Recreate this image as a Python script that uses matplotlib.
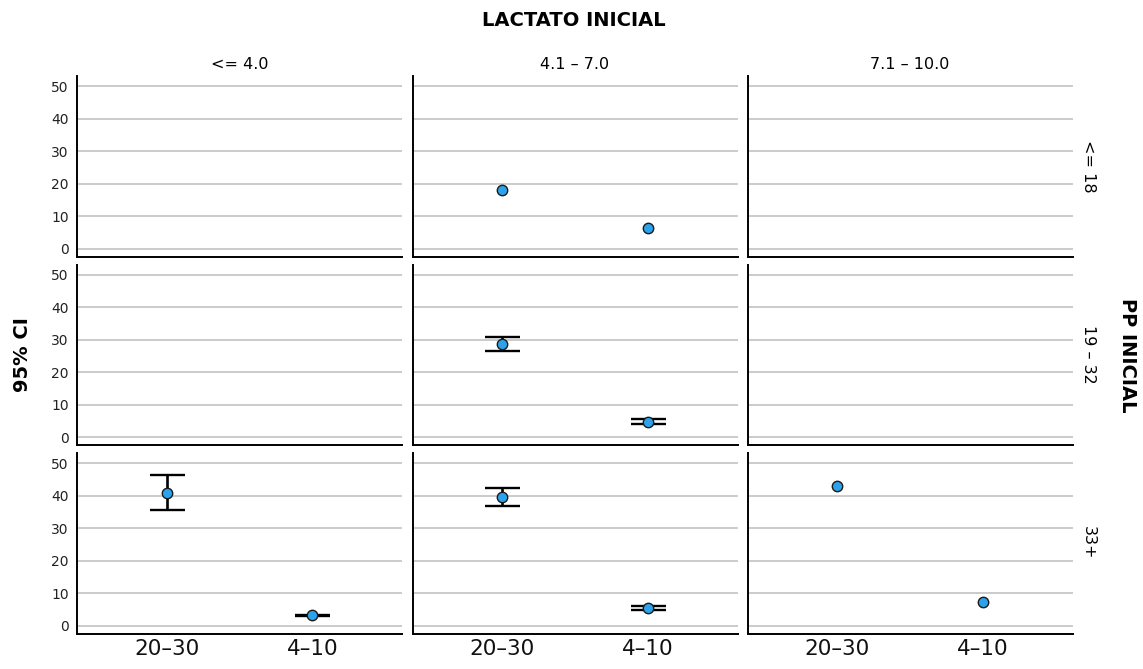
import numpy as np
import matplotlib
matplotlib.use('Agg')
import matplotlib.pyplot as plt

# x categories (same in every panel)
categories = ['20\u201330', '4\u201310']
# column / row facets
col_labels = ['<= 4.0', '4.1 \u2013 7.0', '7.1 \u2013 10.0']
row_labels = ['<= 18', '19 \u2013 32', '33+']

nan = np.nan
# means: [row][col] -> value for each category
mean_2030 = [[nan, 18.0, nan],
             [nan, 28.7, nan],
             [41.0, 39.7, 43.1]]
mean_410 = [[nan, 6.3, nan],
            [nan, 4.8, nan],
            [3.2, 5.4, 7.3]]
# 95% CI bounds (nan = no interval)
lo_2030 = [[nan, nan, nan],
           [nan, 26.6, nan],
           [35.6, 36.9, nan]]
hi_2030 = [[nan, nan, nan],
           [nan, 31.0, nan],
           [46.4, 42.5, nan]]
lo_410 = [[nan, nan, nan],
          [nan, 4.2, nan],
          [3.0, 4.7, nan]]
hi_410 = [[nan, nan, nan],
          [nan, 5.5, nan],
          [3.4, 6.2, nan]]

yticks = [0, 10, 20, 30, 40, 50]

W, H = 1143, 669
fig = plt.figure(figsize=(W / 100, H / 100), dpi=100)

col_left = [77, 412.5, 747.5]
ax_w = 325
row_top = [76, 264.5, 453]
ax_h = 180.5

point_color = '#2BA2EA'

for r in range(3):
    for c in range(3):
        ax = fig.add_axes([col_left[c] / W, 1 - (row_top[r] + ax_h) / H,
                           ax_w / W, ax_h / H])
        ax.set_xlim(-0.616, 1.616)
        ax.set_ylim(-2.4, 53.2)
        ax.set_yticks(yticks)
        ax.set_xticks([0, 1])
        ax.grid(axis='y', color='#bdbdbd', linewidth=1.1)
        ax.set_axisbelow(True)
        for s in ['top', 'right']:
            ax.spines[s].set_visible(False)
        for s in ['left', 'bottom']:
            ax.spines[s].set_linewidth(1.4)
            ax.spines[s].set_color('black')
        ax.tick_params(length=0)
        if c == 0:
            ax.tick_params(axis='y', labelsize=10, pad=6, labelcolor='#222222')
        else:
            ax.set_yticklabels([])
        if r == 2:
            ax.set_xticklabels(categories, fontsize=15.5, color='#111111')
            ax.tick_params(axis='x', pad=4)
        else:
            ax.set_xticklabels([])

        means = [mean_2030[r][c], mean_410[r][c]]
        los = [lo_2030[r][c], lo_410[r][c]]
        his = [hi_2030[r][c], hi_410[r][c]]
        for i in range(2):
            if np.isnan(means[i]):
                continue
            if not np.isnan(los[i]):
                ax.errorbar([i], [means[i]],
                            yerr=[[means[i] - los[i]], [his[i] - means[i]]],
                            fmt='none', ecolor='black', elinewidth=1.9,
                            capsize=12.6, capthick=1.7, zorder=3)
            ax.plot([i], [means[i]], 'o', markersize=7.5,
                    markerfacecolor=point_color, markeredgecolor='#1a1a1a',
                    markeredgewidth=1.0, zorder=4)

        if r == 0:
            ax.set_title(col_labels[c], fontsize=11.5, pad=5)
        if c == 2:
            ax.text(1.05, 0.5, row_labels[r], transform=ax.transAxes,
                    rotation=270, ha='center', va='center', fontsize=11.5)

fig.text(574 / W, 1 - 20 / H, 'LACTATO INICIAL', ha='center', va='center',
         fontsize=14, fontweight='bold')
fig.text(23 / W, 1 - 355 / H, '95% CI', ha='center', va='center',
         rotation=90, fontsize=14, fontweight='bold')
fig.text(1127 / W, 1 - 355 / H, 'PP INICIAL', ha='center', va='center',
         rotation=270, fontsize=14, fontweight='bold')

fig.savefig('out.png', dpi=100)
